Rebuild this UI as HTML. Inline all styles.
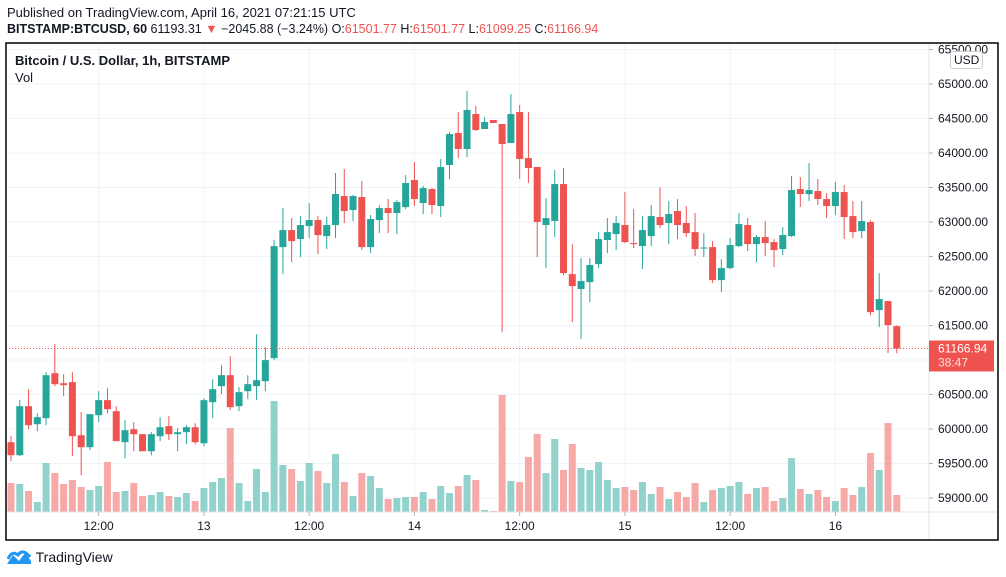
<!DOCTYPE html>
<html><head><meta charset="utf-8"><style>
body{margin:0;background:#fff;font-family:"Liberation Sans",sans-serif;width:1006px;height:577px;overflow:hidden;position:relative}
.t{position:absolute;white-space:nowrap;color:#131722}
</style></head><body>
<div class="t" style="left:7px;top:5px;font-size:13px;color:#131722">Published on TradingView.com, April 16, 2021 07:21:15 UTC</div>
<div class="t" style="left:7px;top:22px;font-size:12.5px"><b>BITSTAMP:BTCUSD, 60</b> 61193.31 <span style="color:#ef5350">▼</span> −2045.88 (−3.24%) O:<span style="color:#ef5350">61501.77</span> H:<span style="color:#ef5350">61501.77</span> L:<span style="color:#ef5350">61099.25</span> C:<span style="color:#ef5350">61166.94</span></div>
<svg id="chart" width="1006" height="577" style="position:absolute;left:0;top:0" font-family="Liberation Sans, sans-serif"></svg>
<div class="t" style="left:15px;top:53px;font-size:13px;font-weight:bold">Bitcoin / U.S. Dollar, 1h, BITSTAMP</div>
<div class="t" style="left:15px;top:70px;font-size:13px">Vol</div>
<div class="t" style="left:950px;top:51px;font-size:12px;border:1px solid #ccc;border-radius:3px;padding:1px 3px;background:#fff">USD</div>
<div class="t" style="left:6px;top:549px;font-size:14px;color:#131722"><svg width="26" height="16" viewBox="0 0 26 16" style="vertical-align:-3px"><path d="M1 15 L7 6 L13 12 L19 4 L25 12 L25 15Z" fill="#2196f3"/><path d="M2 10 Q6 1 12 6 Q17 -1 24 8" fill="none" stroke="#2196f3" stroke-width="3"/></svg> TradingView</div>
<script>
const opens=[59809,59620,60331,60070,60157,60809,60664,60679,59910,59736,60200,60418,60258,59809,59997,59925,59678,59896,60041,59925,59954,60026,59794,60389,60621,60780,60331,60548,60621,60693,61027,62636,62883,62753,62941,63028,62796,62956,63376,63173,63362,62636,63028,63202,63130,63216,63608,63275,63478,63231,63826,64290,64058,64565,64348,64478,64420,64145,64594,63927,63797,62956,63014,63550,62245,62028,62129,62390,62738,62825,62956,62695,62651,62796,63072,62985,63159,62985,62854,62622,62636,62158,62332,62651,62956,62680,62782,62709,62608,62796,63478,63405,63449,63333,63231,63434,63086,62869,63000,61723,61854,61491];
const highs=[59896,60418,60577,60229,60824,61230,60795,60824,60244,60215,60548,60592,60331,60128,60099,59925,59954,60171,60186,60012,60055,60084,60447,60722,60925,61056,60607,60780,61375,61186,62738,63202,63057,63086,63275,63086,63072,63710,63768,63391,63594,63101,63246,63333,63318,63680,63869,63521,63492,63912,64304,64594,64899,64681,64522,64478,64420,64855,64696,64594,63797,63347,63753,63782,62680,62477,62477,62854,63057,63086,63434,63188,63086,63246,63507,63304,63333,63231,63130,62840,62723,62463,62767,63130,63057,62811,63014,62753,62926,63666,63652,63855,63623,63420,63579,63536,63304,63304,63028,62260,61854,61501];
const lows=[59533,59606,59997,59968,60055,60621,60476,59606,59330,59693,60099,60229,59824,59577,59678,59678,59620,59824,59838,59678,59780,59780,59751,60157,60505,60273,60258,60432,60418,60548,60998,62245,62419,62492,62767,62535,62608,62767,62985,63014,62593,62550,62840,62840,62825,63188,63231,63115,63115,63072,63623,63927,63942,64319,64348,64435,61404,64145,63623,63565,62492,62332,62782,62230,61549,61303,61839,62332,62550,62593,62695,62622,62318,62651,62912,62680,62753,62782,62506,62492,62115,61984,62318,62636,62579,62419,62506,62347,62521,62782,63217,63304,63246,63057,63101,62753,62767,62767,61650,61477,61100,61099];
const closes=[59620,60331,60055,60171,60780,60650,60635,59896,59736,60215,60418,60287,59824,59983,59925,59678,59925,60026,59925,59954,60026,59809,60418,60577,60780,60316,60534,60650,60708,60998,62651,62883,62723,62956,63028,62810,62956,63405,63159,63376,62636,63043,63202,63130,63289,63565,63333,63492,63246,63796,64275,64058,64623,64333,64449,64435,64130,64565,63913,63782,63000,63057,63550,62260,62071,62144,62376,62753,62854,62985,62709,62680,62883,63086,62956,63115,62956,62840,62608,62630,62158,62332,62666,62970,62680,62782,62695,62593,62811,63463,63405,63463,63333,63231,63434,63072,62854,63014,61694,61883,61506,61167];
const volumes=[29,28,21,10,49,39,28,32,25,22,26,50,20,21,29,16,17,20,16,15,19,11,24,30,34,84,29,11,43,20,111,47,43,31,49,41,29,58,30,16,39,36,24,13,14,15,15,20,13,26,19,26,37,32,2,1,117,31,30,55,78,39,73,42,68,44,42,50,32,24,25,22,30,18,25,13,20,15,29,10,22,24,26,30,18,24,25,11,14,54,23,18,22,15,11,24,17,25,59,42,89,17];
const priceTicks=[59000,59500,60000,60500,61000,61500,62000,62500,63000,63500,64000,64500,65000,65500];
const timeLabels=["12:00","13","12:00","14","12:00","15","12:00","16"];
const timeLabelIdx=[10,22,34,46,58,70,82,94];
const lastPrice=61166.94;

const NS="http://www.w3.org/2000/svg";
const svg=document.getElementById('chart');
const L=6,T=43,R=998,B=540,PX=929,TY=512;
const yP=p=>84+(65000-p)*0.069;
const xI=i=>11+i*8.77;
const yV=v=>TY-v;
function mk(tag,attrs,parent){const e=document.createElementNS(NS,tag);for(const k in attrs)e.setAttribute(k,attrs[k]);(parent||svg).appendChild(e);return e;}
// grid
priceTicks.forEach(p=>{const g=mk('line',{x1:L,x2:PX,y1:yP(p),y2:yP(p),stroke:'#f0f3fa','stroke-width':1});

});
timeLabelIdx.forEach(i=>{const g=mk('line',{x1:xI(i),x2:xI(i),y1:T,y2:TY,stroke:'#f0f3fa','stroke-width':1});

});
// volume
volumes.forEach((v,i)=>{const up=closes[i]>=opens[i];
const r=mk('rect',{x:xI(i)-3.5,y:yV(v),width:7,height:v,fill:up?'#92d2cc':'#f7a9a7'});

});
// candles
opens.forEach((o,i)=>{const c=closes[i],up=c>=o,col=up?'#26a69a':'#ef5350';
const g=mk('g',{});


mk('line',{x1:xI(i),x2:xI(i),y1:yP(highs[i]),y2:yP(lows[i]),stroke:col,'stroke-width':1},g);
const t=Math.min(yP(o),yP(c)),h=Math.max(1,Math.abs(yP(o)-yP(c)));
mk('rect',{x:xI(i)-3.5,y:t,width:7,height:h,fill:col},g);});
// last price line
const lp=mk('line',{x1:L,x2:PX,y1:yP(lastPrice),y2:yP(lastPrice),stroke:'#ef5350','stroke-width':1,'stroke-dasharray':'1,2'});


// axes
mk('line',{x1:PX,x2:PX,y1:T,y2:B,stroke:'#e0e3eb'});
mk('line',{x1:L,x2:R,y1:TY,y2:TY,stroke:'#e0e3eb'});
mk('rect',{x:L,y:T,width:R-L,height:B-T,fill:'none',stroke:'#000','stroke-width':1.5});
priceTicks.forEach(p=>{if(p===61000)return;
const tk=mk('line',{x1:PX,x2:PX+4,y1:yP(p),y2:yP(p),stroke:'#b2b5be'});
const tx=mk('text',{x:938,y:yP(p)+4,'font-size':12,fill:'#131722'});
tx.textContent=p.toFixed(2);

});
timeLabelIdx.forEach((i,k)=>{mk('line',{x1:xI(i),x2:xI(i),y1:TY,y2:TY+4,stroke:'#b2b5be'});
const tx=mk('text',{x:xI(i),y:530,'font-size':12,fill:'#131722','text-anchor':'middle'});
tx.textContent=timeLabels[k];

});
// price tag
const ty=yP(lastPrice);
const tag=mk('rect',{x:PX,y:ty-8,width:65,height:31,fill:'#ef5350'});


const t1=mk('text',{x:938,y:ty+4,'font-size':12,fill:'#fff'});t1.textContent=lastPrice.toFixed(2);


const t2=mk('text',{x:938,y:ty+18,'font-size':12,fill:'#fdd'});t2.textContent='38:47';


</script>
</body></html>
